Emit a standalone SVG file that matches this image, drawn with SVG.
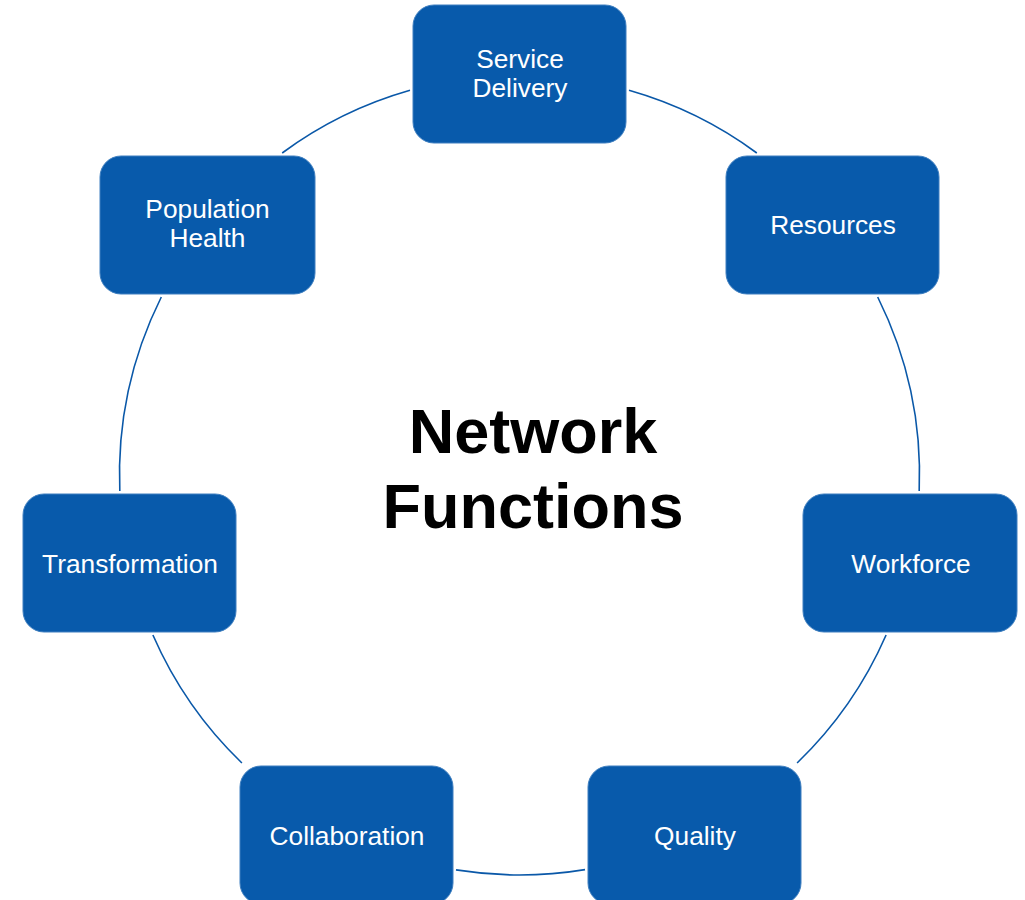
<svg xmlns="http://www.w3.org/2000/svg" width="1025" height="900" viewBox="0 0 1025 900">
<style>
.node rect{fill:#085AAB;stroke:#3F7FC0;stroke-width:1}
.node text{fill:#FFFFFF;font-family:"Liberation Sans",Arial,sans-serif;font-size:26.3px;text-anchor:middle}
.conn path{fill:none;stroke:#0A58A8;stroke-width:1.6}
.title{fill:#000000;font-family:"Liberation Sans",Arial,sans-serif;font-size:63px;font-weight:bold;text-anchor:middle}
</style>
<rect width="1025" height="900" fill="#FFFFFF"/>
<g id="connectors" class="conn">
<path d="M629,90.3 A400,400 0 0 1 756.8,153"/>
<path d="M877.7,297 A400,400 0 0 1 919.2,491"/>
<path d="M886.1,635 A400,400 0 0 1 797.1,763"/>
<path d="M585,869.6 A400,400 0 0 1 456,869.9"/>
<path d="M241.9,763 A400,400 0 0 1 152.9,635"/>
<path d="M119.8,491 A400,400 0 0 1 161.3,297"/>
<path d="M282.2,153 A400,400 0 0 1 410,90.3"/>
</g>
<g id="service-delivery" class="node">
<rect x="413" y="5" width="213" height="138" rx="21"/>
<text x="520" y="68">Service</text>
<text x="520" y="97">Delivery</text>
</g>
<g id="resources" class="node">
<rect x="726" y="156" width="213" height="138" rx="21"/>
<text x="833" y="234">Resources</text>
</g>
<g id="workforce" class="node">
<rect x="803" y="494" width="214" height="138" rx="21"/>
<text x="911" y="573">Workforce</text>
</g>
<g id="quality" class="node">
<rect x="588" y="766" width="213" height="138" rx="21"/>
<text x="695" y="845">Quality</text>
</g>
<g id="collaboration" class="node">
<rect x="240" y="766" width="213" height="138" rx="21"/>
<text x="347" y="845">Collaboration</text>
</g>
<g id="transformation" class="node">
<rect x="23" y="494" width="213" height="138" rx="21"/>
<text x="130" y="573">Transformation</text>
</g>
<g id="population-health" class="node">
<rect x="100" y="156" width="215" height="138" rx="21"/>
<text x="207.5" y="218">Population</text>
<text x="207.5" y="247">Health</text>
</g>
<g id="title">
<text class="title" x="533" y="453">Network</text>
<text class="title" x="533" y="528">Functions</text>
</g>
</svg>
